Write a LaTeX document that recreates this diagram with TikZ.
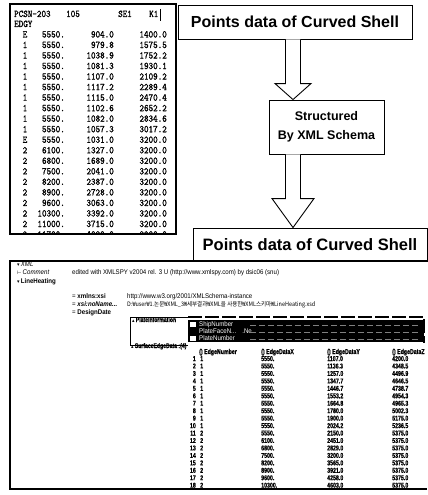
\documentclass[tikz,border=0pt]{standalone}
\usepackage{fontspec}
\setmainfont{Liberation Sans}
\newfontfamily\tabfont{lmmono10-regular.otf}[FakeStretch=0.85,FakeBold=1.2]
\newfontfamily\uifont{Liberation Sans}[FakeStretch=0.9]
\newfontfamily\gridfont{Liberation Sans Bold}[FakeStretch=0.75,FakeBold=0.6]
\newfontfamily\korfont{Noto Sans CJK KR}[FakeStretch=0.9]
\newfontfamily\symfont{DejaVu Sans}
\usetikzlibrary{calc}

\begin{document}
\begin{tikzpicture}[x=1pt,y=-1pt,
  frame/.style={draw=black, line width=1.2pt},
  titlebox/.style={draw=black, line width=0.9pt, inner sep=0pt, align=center,
    font=\bfseries\fontsize{16}{18}\selectfont},
  hollowarrow/.style={draw=black, line width=0.9pt, fill=white, line join=miter},
  tt/.style={font=\tabfont\fontsize{10.2}{10}\selectfont, inner sep=0pt},
  ui/.style={font=\uifont\fontsize{6.8}{7}\selectfont, inner sep=0pt, anchor=base west},
  gd/.style={font=\gridfont\fontsize{7}{7}\selectfont, inner sep=0pt, anchor=base west},
]
\useasboundingbox (0,0) rectangle (428,495);
\fill[white] (0,0) rectangle (428,495);

% ---------- raw point listing ----------
\begin{scope}
  \clip (10,4) rectangle (176,234);
  \node[tt, anchor=base west] (hd1) at (14,17) {PCSN-203};
  \node[tt, anchor=base west] (hd2) at (66,17) {105};
  \node[tt, anchor=base west] (hd3) at (118,17) {SE1};
  \node[tt, anchor=base west] (hd4) at (149,17) {K1};
  \node[tt, anchor=base west] (hd5) at (14,27) {EDGY};
  \foreach \f/\a/\b/\c [count=\i] in {
    E/5550./904.0/1400.0, 1/5550./979.8/1575.5, 1/5550./1038.9/1752.2,
    1/5550./1081.3/1930.1, 1/5550./1107.0/2109.2, 1/5550./1117.2/2289.4,
    1/5550./1115.0/2470.4, 1/5550./1102.6/2652.2, 1/5550./1082.0/2834.6,
    1/5550./1057.3/3017.2, E/5550./1031.0/3200.0, 2/6100./1327.0/3200.0,
    2/6800./1689.0/3200.0, 2/7500./2041.0/3200.0, 2/8200./2387.0/3200.0,
    2/8900./2728.0/3200.0, 2/9600./3063.0/3200.0, 2/10300./3392.0/3200.0,
    2/11000./3715.0/3200.0, 2/11700./4030.0/3200.0} {
    \pgfmathsetmacro\yy{37.5+(\i-1)*10.53}
    \node[tt, anchor=base] (tf\i) at (25,\yy) {\f};
    \node[tt, anchor=base east] (ta\i) at (65,\yy) {\a};
    \node[tt, anchor=base east] (tb\i) at (114,\yy) {\b};
    \node[tt, anchor=base east] (tc\i) at (167,\yy) {\c};
  }
\end{scope}
\draw[line width=0.8pt] (160,9) -- (160,21);
\node[frame, minimum width=166pt, minimum height=230pt, inner sep=0pt] (tbl) at (93,119) {};

% ---------- flow boxes ----------
\node[titlebox, minimum width=234pt, minimum height=34pt] (t1) at (295,22) {Points data of Curved Shell};
\node[titlebox, minimum width=115pt, minimum height=54pt, font=\bfseries\fontsize{12.5}{19}\selectfont]
  (mid) at (326.5,127) {Structured\\By XML Schema};
\node[titlebox, minimum width=234pt, minimum height=33pt, font=\bfseries\fontsize{16.5}{18}\selectfont]
  (t2) at (310,244.5) {Points data of Curved Shell};

\coordinate (ax) at (293,0);
\draw[hollowarrow] ($(ax |- t1.south)+(-7.5,0)$) -- ($(ax |- mid.north)+(-7.5,-16)$)
  -- ($(ax |- mid.north)+(-18,-16)$) -- (ax |- mid.north) -- ($(ax |- mid.north)+(18,-16)$)
  -- ($(ax |- mid.north)+(7.5,-16)$) -- ($(ax |- t1.south)+(7.5,0)$);
\draw[hollowarrow] ($(ax |- mid.south)+(-7.5,0)$) -- ($(ax |- t2.north)+(-7.5,-29)$)
  -- ($(ax |- t2.north)+(-21,-29)$) -- (ax |- t2.north) -- ($(ax |- t2.north)+(21,-29)$)
  -- ($(ax |- t2.north)+(7.5,-29)$) -- ($(ax |- mid.south)+(7.5,0)$);

% ---------- XMLSpy grid view ----------
\begin{scope}
  \clip (10,261) rectangle (427,489);
  \node[ui] (xml) at (17,266) {{\symfont\tiny▾}\,\textit{XML}};
  \node[ui] (cmt) at (17,274) {{\symfont\tiny⊢}\,\textit{Comment}};
  \node[ui] (lh) at (17,283) {{\symfont\tiny▾}\,\textbf{LineHeating}};
  \node[ui] (cmtv) at (72,274) {edited with XMLSPY v2004 rel. 3 U (http://www.xmlspy.com) by dsic06 (snu)};
  \node[ui] (ns) at (72,298) {= \textbf{xmlns:xsi}};
  \node[ui] (nsv) at (127,298) {http://www.w3.org/2001/XMLSchema-instance};
  \node[ui] (loc) at (72,306) {= \textbf{\textit{xsi:noName...}}};
  \node[ui, font=\korfont\fontsize{6.1}{7}\selectfont] (locv) at (127,306)
    {D:₩user₩1.논문₩XML\_3₩세부결과₩XML을 사용한₩XML스키마₩LineHeating.xsd};
  \node[ui] (dd) at (72,314) {= \textbf{DesignDate}};

  % PlateInformation block
  \draw[line width=0.8pt] (130,345) -- (130,317) -- (188,317);
  \draw[line width=1.2pt, dash pattern=on 14pt off 3pt] (188,317) -- (424,317) -- (424,343);
  \draw[line width=0.6pt] (130,345) -- (188,345);
  \fill[black] (188,320) rectangle (424,342);
  \node[ui, font=\gridfont\fontsize{6.8}{7}\selectfont] (pi) at (132,322) {{\symfont\tiny▴}\,PlateInformation};
  \fill[white] (190,322) rectangle (196,327);
  \fill[white] (190,336) rectangle (196,341);
  \node[ui, text=white] (ship) at (199,326.5) {ShipNumber};
  \node[ui, text=white] (face) at (199,333) {PlateFaceN... \;\;.Ne};
  \node[ui, text=white] (pnum) at (199,340) {PlateNumber};
  \foreach \yy in {325,332,339}
    \draw[gray, line width=0.4pt, dash pattern=on 6pt off 3pt] (250,\yy) -- (420,\yy);

  % SurfaceEdgeData table
  \node[ui, font=\gridfont\fontsize{6.8}{7}\selectfont] (sed) at (131,348) {{\symfont\tiny▴}\,SurfaceEdgeData :(4)};
  \node[gd] (h1) at (199,354) {() EdgeNumber};
  \node[gd] (h2) at (261,354) {() EdgeDataX};
  \node[gd] (h3) at (327,354) {() EdgeDataY};
  \node[gd] (h4) at (392,354) {() EdgeDataZ};
  \foreach \n/\g/\X/\Y/\Z [count=\i] in {
    1/1/5550./1107.0/4200.0, 2/1/5550./1136.3/4348.5, 3/1/5550./1257.0/4496.9,
    4/1/5550./1347.7/4646.5, 5/1/5550./1446.7/4738.7, 6/1/5550./1553.2/4954.3,
    7/1/5550./1664.8/4965.3, 8/1/5550./1780.0/5002.3, 9/1/5550./1900.0/5175.0,
    10/1/5550./2024.2/5236.5, 11/2/5550./2150.0/5375.0, 12/2/6100./2451.0/5375.0,
    13/2/6800./2829.0/5375.0, 14/2/7500./3200.0/5375.0, 15/2/8200./3565.0/5375.0,
    16/2/8900./3921.0/5375.0, 17/2/9600./4258.0/5375.0, 18/2/10300./4603.0/5375.0,
    19/2/11000./4947.0/5375.0} {
    \pgfmathsetmacro\yy{361+(\i-1)*7.45}
    \node[gd, anchor=base east] (gn\i) at (196,\yy) {\n};
    \node[gd] (gg\i) at (200,\yy) {\g};
    \node[gd] (gx\i) at (261,\yy) {\X};
    \node[gd] (gy\i) at (327,\yy) {\Y};
    \node[gd] (gz\i) at (392,\yy) {\Z};
  }
\end{scope}
\draw[frame] (427,261) -- (10,261) -- (10,489) -- (427,489);
\end{tikzpicture}
\end{document}
